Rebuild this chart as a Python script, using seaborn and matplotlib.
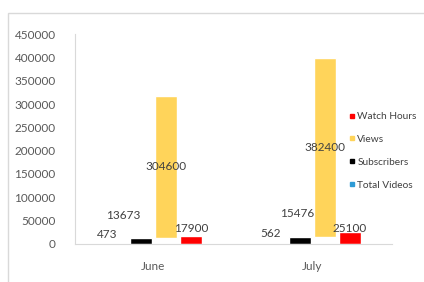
import pandas as pd
import seaborn as sns
import matplotlib.pyplot as plt
from matplotlib.lines import Line2D
from matplotlib.patches import Rectangle

# data
months = ["June", "July"]
series = ["Total Videos", "Subscribers", "Views", "Watch Hours"]
total_videos = [473, 562]
subscribers = [13673, 15476]
views = [304600, 382400]
watch_hours = [17900, 25100]
y_ticks = [0, 50000, 100000, 150000, 200000, 250000, 300000, 350000, 400000, 450000]

colors = {"Total Videos": "#2e9bd6", "Subscribers": "#000000",
          "Views": "#ffd45a", "Watch Hours": "#ff0000"}

df = pd.DataFrame({
    "month": months * 4,
    "series": [s for s in series for _ in months],
    "value": total_videos + subscribers + views + watch_hours,
})

sns.set_theme(style="white")
plt.rcParams["font.family"] = ["Lato", "DejaVu Sans"]

fig = plt.figure(figsize=(4.24, 2.82), dpi=100, facecolor="white")
ax = fig.add_axes([0.177, 0.135, 0.748, 0.744])

sns.barplot(data=df, x="month", y="value", hue="series", order=months,
            hue_order=series, palette=colors, width=0.632, gap=0.127,
            dodge=True, legend=False, ax=ax, saturation=1, errorbar=None)

# Views bars float on top of the subscribers value
for patch, base in zip(ax.containers[2], subscribers):
    patch.set_y(base)

ax.set_ylim(0, 450000)
ax.set_xlim(-0.49, 1.5)
ax.set_yticks(y_ticks)
ax.set_yticklabels([str(t) for t in y_ticks])
ax.set_xlabel("")
ax.set_ylabel("")
ax.tick_params(axis="both", length=0, labelsize=8.5, colors="#595959")
ax.tick_params(axis="y", pad=14)
ax.tick_params(axis="x", pad=12)
for side in ["top", "right"]:
    ax.spines[side].set_visible(False)
for side in ["left", "bottom"]:
    ax.spines[side].set_color("#d9d9d9")
    ax.spines[side].set_linewidth(0.8)

# data labels (pixel offsets as they sit in the picture)
label_offsets = {
    "Total Videos": [(-8, 9), (-4, 10)],
    "Subscribers": [(-17, 22), (-3, 23)],
    "Watch Hours": [(0, 7), (-1, 4)],
}
values = {"Total Videos": total_videos, "Subscribers": subscribers,
          "Views": views, "Watch Hours": watch_hours}
for i, name in enumerate(series):
    for j, patch in enumerate(ax.containers[i]):
        cx = patch.get_x() + patch.get_width() / 2
        if name == "Views":
            cy = patch.get_y() + patch.get_height() / 2
            ax.text(cx, cy, str(values[name][j]), ha="center", va="center",
                    fontsize=8.5, color="#404040")
        else:
            dx, dy = label_offsets[name][j]
            ax.annotate(str(values[name][j]), (cx, patch.get_y() + patch.get_height()),
                        xytext=(dx, dy), textcoords="offset pixels",
                        ha="center", va="center", fontsize=8.5, color="#404040")

handles = [Line2D([], [], marker="s", linestyle="", markersize=3.5,
                  color=colors[s]) for s in reversed(series)]
fig.legend(handles, list(reversed(series)), loc="center left",
           bbox_to_anchor=(0.8, 0.465), frameon=False, fontsize=7.3,
           labelspacing=1.35, handletextpad=0.1, handlelength=0.8,
           labelcolor="#404040")

# outer chart border
fig.patches.append(Rectangle((8 / 424, -0.1), 1.2, 1 - 13 / 282 + 0.1,
                             transform=fig.transFigure, fill=False,
                             edgecolor="#d9d9d9", linewidth=1))

plt.savefig("out.png", dpi=100, facecolor="white")
